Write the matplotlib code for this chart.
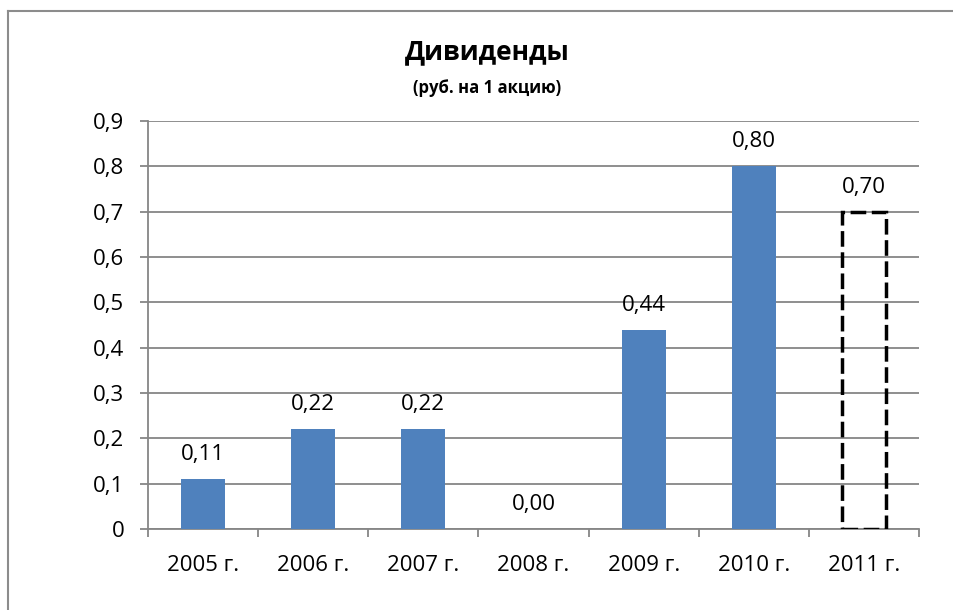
import matplotlib
matplotlib.use("Agg")
import matplotlib.pyplot as plt
from matplotlib.ticker import FuncFormatter, FixedLocator
from matplotlib.lines import Line2D

plt.rcParams['font.family'] = ['Open Sans', 'DejaVu Sans']

categories = ["2005 г.", "2006 г.", "2007 г.", "2008 г.", "2009 г.", "2010 г.", "2011 г."]
actual_values = [0.11, 0.22, 0.22, 0.00, 0.44, 0.80]
forecast_value = 0.70
title = "Дивиденды"
subtitle = "(руб. на 1 акцию)"
yticks = [0, 0.1, 0.2, 0.3, 0.4, 0.5, 0.6, 0.7, 0.8, 0.9]

bar_color = "#4F81BD"
grid_color = "#868686"
fs = 16

fig = plt.figure(figsize=(9.54, 6.10), dpi=100)
ax = fig.add_axes([148/954, 1 - 529/610, (919-148)/954, (529-121)/610])

x_act = list(range(len(actual_values)))
ax.bar(x_act, actual_values, width=0.4, color=bar_color, zorder=3)
x_fc = len(actual_values)
ax.bar([x_fc], [forecast_value], width=0.4, facecolor="none", edgecolor="black",
       linewidth=2.5, linestyle=(0, (4.5, 1.6)), zorder=4)

def fmt_comma(v, decimals):
    return f"{v:.{decimals}f}".replace(".", ",")

for xi, v in zip(x_act + [x_fc], actual_values + [forecast_value]):
    ax.annotate(fmt_comma(v, 2), (xi, v), xytext=(0, 10), textcoords="offset points",
                ha="center", va="bottom", fontsize=fs)

ax.set_xlim(-0.5, len(categories) - 0.5)
ax.set_ylim(0, 0.9)
ax.set_yticks(yticks)
ax.yaxis.set_major_formatter(FuncFormatter(lambda v, p: "0" if abs(v) < 1e-9 else fmt_comma(v, 1)))
ax.yaxis.grid(True, color=grid_color, linewidth=1.3, zorder=0)
ax.set_axisbelow(True)

ax.set_xticks(range(len(categories)))
ax.set_xticklabels(categories)
ax.xaxis.set_minor_locator(FixedLocator([i - 0.5 for i in range(len(categories) + 1)]))
ax.tick_params(axis="x", which="major", length=0, pad=19, labelsize=fs)
ax.tick_params(axis="x", which="minor", length=6, width=1.3, color=grid_color, direction="out")
ax.tick_params(axis="y", which="major", length=6, width=1.3, color=grid_color, pad=11, labelsize=fs)

for s in ["top", "right"]:
    ax.spines[s].set_visible(False)
for s in ["left", "bottom"]:
    ax.spines[s].set_color(grid_color)
    ax.spines[s].set_linewidth(1.3)

fig.text(487/954, 1 - 52/610, title, ha="center", va="center", fontsize=19, fontweight="bold")
fig.text(487/954, 1 - 88/610, subtitle, ha="center", va="center", fontsize=12, fontweight="bold")

# outer chart-area frame (left and top edges visible)
fig.add_artist(Line2D([8/954, 8/954], [0, 1 - 11/610], transform=fig.transFigure, color="#8C8C8C", linewidth=1.5))
fig.add_artist(Line2D([8/954, 1], [1 - 11/610, 1 - 11/610], transform=fig.transFigure, color="#8C8C8C", linewidth=1.5))

fig.savefig("out.png", dpi=100, facecolor="white")
